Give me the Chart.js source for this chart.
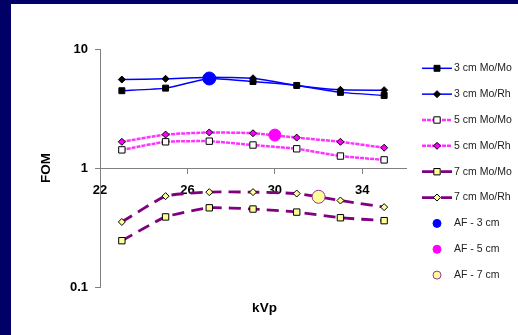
<!DOCTYPE html>
<html>
<head>
<meta charset="utf-8">
<script src="https://cdn.jsdelivr.net/npm/chart.js@4/dist/chart.umd.min.js"></script>
<style>
  html, body { margin: 0; padding: 0; background: #000066; width: 518px; height: 335px; overflow: hidden; }
  #wrap { position: absolute; left: 11px; top: 4px; width: 507px; height: 331px; background: #fff; }
</style>
</head>
<body>
<div id="wrap"><canvas id="myChart" width="507" height="331"></canvas></div>
<script>
// kVp settings
const kvp = [23, 25, 27, 29, 31, 33, 35];
const xTicks = [22, 26, 30, 34];
const yTicks = [0.1, 1, 10];

// FOM values
const cm3MoMo = [4.46, 4.69, 5.65, 5.33, 4.94, 4.32, 4.07];
const cm3MoRh = [5.54, 5.62, 5.8, 5.68, 4.94, 4.54, 4.51];
const cm5MoMo = [1.42, 1.66, 1.68, 1.56, 1.45, 1.26, 1.17];
const cm5MoRh = [1.66, 1.91, 1.99, 1.96, 1.8, 1.66, 1.48];
const cm7MoMo = [0.245, 0.388, 0.463, 0.452, 0.426, 0.382, 0.361];
const cm7MoRh = [0.352, 0.58, 0.627, 0.627, 0.61, 0.533, 0.469];

// automatic-filter points [kVp, FOM]
const af3 = [27, 5.65];
const af5 = [30, 1.89];
const af7 = [32, 0.573];

const FONT = 'Arial, "Liberation Sans", sans-serif';

function pts(ys) {
  return ys.map((y, i) => ({ x: kvp[i], y: y }));
}

function lineSet(label, ys, color, width, dash, style, radius, fill) {
  return {
    label: label,
    data: pts(ys),
    borderColor: color,
    borderWidth: width,
    borderDash: dash,
    pointStyle: style,
    pointRadius: radius,
    pointHoverRadius: radius,
    pointBackgroundColor: fill,
    pointBorderColor: '#000',
    pointBorderWidth: 1,
    tension: 0.15,
    order: 1,
  };
}

function afSet(label, p, fill, border, radius, legendRadius) {
  return {
    label: label,
    data: [{ x: p[0], y: p[1] }],
    showLine: false,
    pointStyle: 'circle',
    pointRadius: radius,
    pointBackgroundColor: fill,
    pointBorderColor: border,
    pointBorderWidth: 1,
    legendRadius: legendRadius,
    order: 0,
  };
}

const datasets = [
  lineSet('3 cm Mo/Mo', cm3MoMo, '#0000ff', 1.5, [], 'rect', 4.2, '#000'),
  lineSet('3 cm Mo/Rh', cm3MoRh, '#0000ff', 1.5, [], 'rectRot', 3.5, '#000'),
  lineSet('5 cm Mo/Mo', cm5MoMo, '#ff33ff', 2.5, [4, 1], 'rect', 4.5, '#fff'),
  lineSet('5 cm Mo/Rh', cm5MoRh, '#ff33ff', 2.5, [4, 1], 'rectRot', 3.5, '#ff00ff'),
  lineSet('7 cm Mo/Mo', cm7MoMo, '#800080', 2.8, [12, 7], 'rect', 4.5, '#ffff99'),
  lineSet('7 cm Mo/Rh', cm7MoRh, '#800080', 2.8, [12, 7], 'rectRot', 3.5, '#ffff99'),
  afSet('AF - 3 cm', af3, '#0000ff', '#0000ff', 6.5, 4),
  afSet('AF - 5 cm', af5, '#ff00ff', '#ff00ff', 6, 4),
  afSet('AF - 7 cm', af7, '#ffff99', '#993399', 6.5, 4),
];

// legend on the right, line + marker like the original
const sideLegend = {
  id: 'sideLegend',
  afterDraw(chart) {
    const ctx = chart.ctx;
    const x0 = 411, x1 = 441, xm = 426, tx = 443;
    chart.data.datasets.forEach((ds, i) => {
      const y = 64.3 + i * 25.85;
      ctx.save();
      if (ds.showLine !== false) {
        ctx.strokeStyle = ds.borderColor;
        ctx.lineWidth = ds.borderWidth;
        ctx.setLineDash(ds.borderDash || []);
        ctx.beginPath();
        ctx.moveTo(x0, y);
        ctx.lineTo(x1, y);
        ctx.stroke();
        ctx.setLineDash([]);
      }
      ctx.fillStyle = ds.pointBackgroundColor;
      ctx.strokeStyle = ds.pointBorderColor;
      ctx.lineWidth = 1;
      Chart.helpers.drawPoint(ctx, {
        pointStyle: ds.pointStyle,
        radius: ds.legendRadius || ds.pointRadius,
        rotation: 0,
        borderWidth: 1,
      }, xm, y);
      ctx.fillStyle = '#222';
      ctx.font = '10.5px ' + FONT;
      ctx.textAlign = 'left';
      ctx.textBaseline = 'middle';
      ctx.fillText(ds.label, tx, y);
      ctx.restore();
    });
  }
};

const config = {
  type: 'line',
  data: { datasets: datasets },
  options: {
    responsive: false,
    animation: false,
    devicePixelRatio: 1,
    layout: { padding: { top: 45, left: 0, right: 0, bottom: 0 } },
    plugins: {
      legend: { display: false },
      tooltip: { enabled: false },
      title: {
        display: true,
        position: 'bottom',
        text: 'kVp',
        color: '#000',
        font: { family: FONT, size: 13.5, weight: 'bold' },
        padding: { top: 13, bottom: 18.8 },
      },
    },
    scales: {
      x: {
        type: 'linear',
        position: { y: 1 },
        min: 22,
        max: 36,
        afterBuildTicks: (s) => { s.ticks = xTicks.map(v => ({ value: v })); },
        grid: { drawOnChartArea: false, tickLength: 5, color: '#808080' },
        border: { color: '#808080' },
        ticks: {
          color: '#000',
          padding: 10,
          maxRotation: 0,
          font: { family: FONT, size: 13, weight: 'bold' },
        },
      },
      y: {
        type: 'logarithmic',
        position: 'left',
        min: 0.1,
        max: 10,
        afterBuildTicks: (s) => { s.ticks = yTicks.map(v => ({ value: v })); },
        afterFit: (s) => { s.width = 89; },
        grid: { drawOnChartArea: false, tickLength: 5, color: '#808080' },
        border: { color: '#808080' },
        ticks: {
          color: '#000',
          padding: 7,
          font: { family: FONT, size: 13, weight: 'bold' },
          callback: (v) => String(v),
        },
        title: {
          display: true,
          text: 'FOM',
          color: '#000',
          font: { family: FONT, size: 13.5, weight: 'bold' },
          padding: { top: 27, bottom: 0 },
        },
      },
      legendSpace: {
        type: 'linear',
        axis: 'y',
        position: 'right',
        display: true,
        afterFit: (s) => { s.width = 112; },
        grid: { display: false },
        border: { display: false },
        ticks: { display: false },
      },
    },
  },
  plugins: [sideLegend],
};

const myChart = new Chart(document.getElementById('myChart'), config);
</script>
</body>
</html>
